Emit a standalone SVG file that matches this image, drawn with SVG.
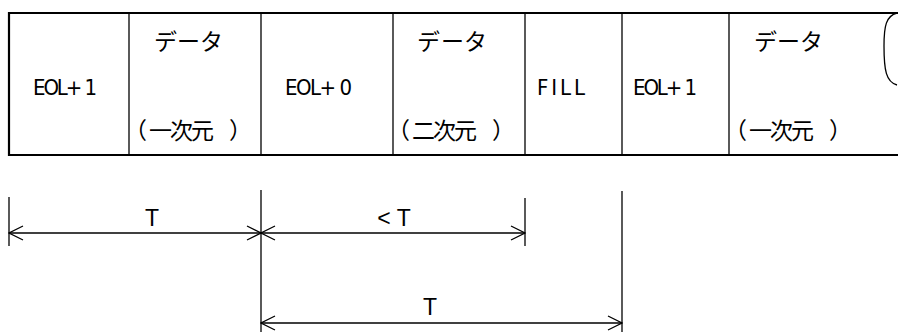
<svg xmlns="http://www.w3.org/2000/svg" width="899" height="332" viewBox="0 0 899 332">
  <style>
    .frame { fill: none; stroke: #000; stroke-width: 2.2; }
    .cell { fill: none; stroke: #000; stroke-width: 1.3; }
    .dim { fill: none; stroke: #000; stroke-width: 1.3; }
    .jp { font-family: "Noto Sans CJK JP", "Noto Sans", sans-serif; font-size: 23px; fill: #000; }
    .lat { font-family: "DejaVu Sans Condensed", "DejaVu Sans", sans-serif; font-size: 22px; fill: #000; }
    .lbl { font-family: "Liberation Sans", Arial, sans-serif; font-size: 23px; fill: #000; text-anchor: middle; }
  </style>
  <defs>
    <marker id="open-arrow" viewBox="0 0 16 16" refX="15" refY="8" markerWidth="16" markerHeight="16" markerUnits="userSpaceOnUse" orient="auto-start-reverse">
      <path d="M1,1 L15,8 L1,15" fill="none" stroke="#000" stroke-width="1.3"/>
    </marker>
  </defs>

  <!-- frame of the data stream -->
  <g id="frame">
    <path class="frame" d="M898,13 L9,13 L9,155 L898,155"/>
    <!-- break mark at the open right end -->
    <path class="cell" d="M897,13 C886,16 884,26 884,46 C884,70 886,82 897,85"/>
  </g>

  <g id="cell-eol1-a">
    <line class="cell" x1="129" y1="13" x2="129" y2="155"/>
    <text class="lat" x="33" y="95" textLength="64" lengthAdjust="spacing">EOL+ 1</text>
  </g>
  <g id="cell-data-1d-a">
    <line class="cell" x1="261" y1="13" x2="261" y2="155"/>
    <text class="jp" x="154 177 200" y="50">データ</text>
    <text class="jp" x="124 149 170 191 229" y="139">（一次元）</text>
  </g>
  <g id="cell-eol0">
    <line class="cell" x1="393" y1="13" x2="393" y2="155"/>
    <text class="lat" x="285" y="95" textLength="67" lengthAdjust="spacing">EOL+ 0</text>
  </g>
  <g id="cell-data-2d">
    <line class="cell" x1="525" y1="13" x2="525" y2="155"/>
    <text class="jp" x="417 441 464" y="50">データ</text>
    <text class="jp" x="387 412 433 454 492" y="139">（二次元）</text>
  </g>
  <g id="cell-fill">
    <line class="cell" x1="622" y1="13" x2="622" y2="155"/>
    <text class="lat" x="537" y="95" textLength="48" lengthAdjust="spacing">FILL</text>
  </g>
  <g id="cell-eol1-b">
    <line class="cell" x1="729" y1="13" x2="729" y2="155"/>
    <text class="lat" x="633" y="95" textLength="64" lengthAdjust="spacing">EOL+ 1</text>
  </g>
  <g id="cell-data-1d-b">
    <text class="jp" x="754 777 800" y="50">データ</text>
    <text class="jp" x="724 749 770 791 829" y="139">（一次元）</text>
  </g>

  <!-- timing dimensions -->
  <g id="connectors">
    <line class="dim" x1="9" y1="197" x2="9" y2="246"/>
    <line class="dim" x1="261" y1="190" x2="261" y2="332"/>
    <line class="dim" x1="525" y1="198" x2="525" y2="246"/>
    <line class="dim" x1="622" y1="191" x2="622" y2="332"/>

    <line class="dim" x1="9" y1="233" x2="261" y2="233" marker-start="url(#open-arrow)" marker-end="url(#open-arrow)"/>
    <line class="dim" x1="261" y1="233" x2="525" y2="233" marker-start="url(#open-arrow)" marker-end="url(#open-arrow)"/>
    <line class="dim" x1="261" y1="323" x2="622" y2="323" marker-start="url(#open-arrow)" marker-end="url(#open-arrow)"/>

    <text class="lbl" x="152" y="226">T</text>
    <text class="lbl" x="394" y="226">&lt; T</text>
    <text class="lbl" x="430" y="315">T</text>
  </g>
</svg>
